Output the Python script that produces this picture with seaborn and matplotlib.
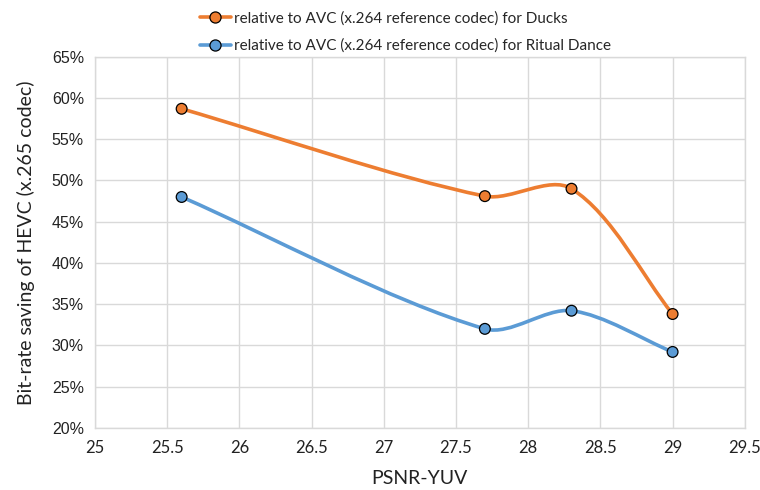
import numpy as np
import pandas as pd
import matplotlib
matplotlib.use("Agg")
import matplotlib.pyplot as plt
import seaborn as sns
from matplotlib.path import Path
from matplotlib.patches import PathPatch
from matplotlib.lines import Line2D
from matplotlib.ticker import FuncFormatter, MultipleLocator

# PSNR operating points and HEVC bit-rate savings (%)
psnr = [25.6, 27.7, 28.3, 29.0]
ducks = [58.7, 48.1, 49.0, 33.8]
ritual_dance = [48.0, 32.0, 34.2, 29.2]
series_names = [
    "relative to AVC (x.264 reference codec) for Ducks",
    "relative to AVC (x.264 reference codec) for Ritual Dance",
]
colors = ["#ED7D31", "#5B9BD5"]

df = pd.DataFrame({
    "psnr": psnr * 2,
    "saving": ducks + ritual_dance,
    "series": [series_names[0]] * len(psnr) + [series_names[1]] * len(psnr),
})

sns.set_theme(style="whitegrid")
plt.rcParams["font.family"] = ["Lato", "DejaVu Sans"]

fig = plt.figure(figsize=(7.6, 4.9), dpi=100)
ax = fig.add_axes([0.125, 0.127, 0.855, 0.757])
ax.set_xlim(25, 29.5)
ax.set_ylim(20, 65)


def smooth_path(ax, xs, ys, k=0.3):
    """Smoothed Bezier path through the points, built in display space.

    The tangent at each point follows its neighbours; control-arm length
    is proportional to the length of the segment it belongs to.
    """
    pts = ax.transData.transform(np.column_stack([xs, ys]))
    n = len(pts)

    def tangent(i):
        a = pts[max(i - 1, 0)]
        b = pts[min(i + 1, n - 1)]
        d = b - a
        return d / np.hypot(*d)

    verts = [pts[0]]
    codes = [Path.MOVETO]
    for i in range(n - 1):
        p1, p2 = pts[i], pts[i + 1]
        seg = np.hypot(*(p2 - p1))
        c1 = p1 + k * seg * tangent(i)
        c2 = p2 - k * seg * tangent(i + 1)
        verts += [c1, c2, p2]
        codes += [Path.CURVE4] * 3
    return Path(verts, codes)


for name, color in zip(series_names, colors):
    sub = df[df["series"] == name]
    path = smooth_path(ax, sub["psnr"].values, sub["saving"].values)
    patch = PathPatch(path, facecolor="none", edgecolor=color, lw=2.6,
                      transform=None, capstyle="round", joinstyle="round", zorder=3)
    ax.add_artist(patch)

sns.scatterplot(data=df, x="psnr", y="saving", hue="series", palette=colors,
                s=60, edgecolor="black", linewidth=0.9, legend=False, ax=ax, zorder=4)

ax.xaxis.set_major_locator(MultipleLocator(0.5))
ax.yaxis.set_major_locator(MultipleLocator(5))
ax.xaxis.set_major_formatter(FuncFormatter(lambda v, p: f"{v:g}"))
ax.yaxis.set_major_formatter(FuncFormatter(lambda v, p: f"{v:.0f}%"))
ax.grid(True, color="#d9d9d9", linewidth=1.0)
for s in ax.spines.values():
    s.set_color("#d9d9d9")
    s.set_linewidth(1.0)
ax.tick_params(axis="both", length=0, colors="#222222")
ax.tick_params(axis="x", labelsize=12, pad=9)
ax.tick_params(axis="y", labelsize=11.5, pad=8)
for lab in ax.get_yticklabels():
    lab.set_family(["Liberation Sans", "DejaVu Sans"])

ax.set_xlabel("PSNR-YUV", fontsize=14, labelpad=10, color="#222222")
ax.set_ylabel("Bit-rate saving of HEVC (x.265 codec)", fontsize=14, labelpad=12, color="#222222")

handles = [Line2D([0], [0], color=c, lw=2.6, marker="o", markersize=8,
                  markerfacecolor=c, markeredgecolor="black", markeredgewidth=0.9)
           for c in colors]
fig.legend(handles, series_names, loc="upper left", bbox_to_anchor=(0.245, 1.005),
           frameon=False, fontsize=11, handlelength=2.0, handletextpad=0.2,
           labelspacing=0.85)

fig.savefig("out.png", dpi=100)
